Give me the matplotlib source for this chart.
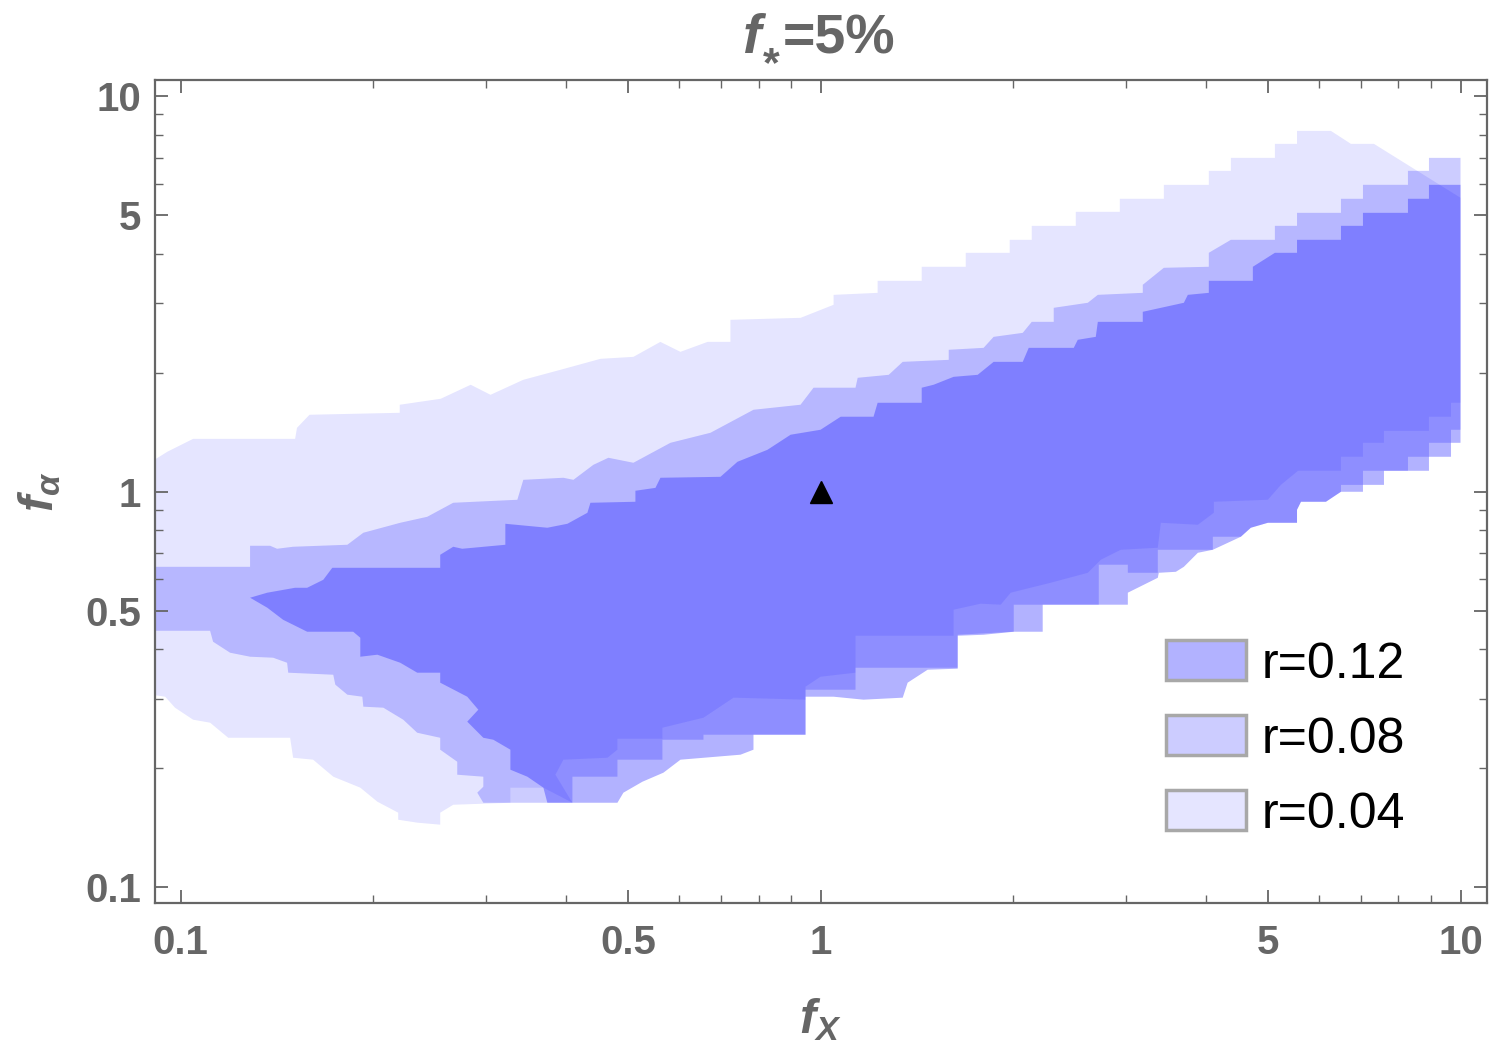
import numpy as np
import matplotlib
matplotlib.use('Agg')
import matplotlib.pyplot as plt
from matplotlib.patches import Rectangle
from matplotlib.ticker import FixedLocator, NullFormatter

plt.rcParams['font.family'] = ['Liberation Sans', 'DejaVu Sans']
plt.rcParams['mathtext.fontset'] = 'custom'
plt.rcParams['mathtext.it'] = 'Liberation Sans:italic:bold'
plt.rcParams['mathtext.rm'] = 'Liberation Sans:bold'
plt.rcParams['mathtext.bf'] = 'Liberation Sans:bold'

gray = '#666666'

# region r=0.04 : upper and lower edge (fX, f_alpha)
r04_top_fx = [0.09, 0.0953, 0.1046, 0.151, 0.152, 0.159, 0.220, 0.220, 0.255, 0.284, 0.305, 0.343,
              0.392, 0.453, 0.510, 0.562, 0.604, 0.666, 0.723, 0.723, 0.931, 1.048, 1.048, 1.228,
              1.228, 1.439, 1.439, 1.686, 1.686, 1.975, 1.975, 2.138, 2.138, 2.505, 2.505, 2.935,
              2.935, 3.439, 3.439, 4.043, 4.043, 4.377, 4.377, 5.128, 5.128, 5.553, 5.553, 6.274,
              6.742, 7.324, 10.0]
r04_top_fa = [1.191, 1.262, 1.361, 1.361, 1.451, 1.566, 1.584, 1.660, 1.719, 1.865, 1.759, 1.919,
              2.034, 2.169, 2.194, 2.394, 2.259, 2.394, 2.394, 2.722, 2.754, 2.971, 3.148, 3.185,
              3.416, 3.416, 3.707, 3.707, 4.021, 4.021, 4.337, 4.337, 4.705, 4.705, 5.105, 5.105,
              5.508, 5.508, 5.974, 5.974, 6.481, 6.481, 6.990, 6.990, 7.584, 7.584, 8.178, 8.178,
              7.584, 7.584, 5.540]
r04_bot_fx = [0.09, 0.0946, 0.098, 0.1046, 0.1112, 0.1187, 0.1483, 0.1499, 0.1611, 0.1732, 0.1909,
              0.2030, 0.2188, 0.2188, 0.2343, 0.2545, 0.2545, 0.2667, 0.3276, 0.3276, 0.3689,
              0.4095, 0.3852, 0.3964, 0.4645, 0.4815, 0.4815, 0.5661, 0.5661, 0.6562, 0.7311,
              0.9474, 0.9474, 1.0, 1.134, 1.134, 1.614, 1.614, 1.779, 1.912, 1.982, 2.289, 2.616,
              2.741, 2.946, 3.365, 3.402, 3.887, 4.117, 4.117, 5.000, 5.240, 5.573, 6.504, 6.504,
              7.040, 7.040, 7.593, 7.593, 8.927, 8.927, 9.664, 9.664, 10.0]
r04_bot_fa = [0.3068, 0.3032, 0.2844, 0.2652, 0.2606, 0.2387, 0.2387, 0.2125, 0.2101, 0.1903, 0.1785,
              0.1645, 0.1543, 0.1481, 0.1456, 0.1439, 0.1543, 0.1616, 0.1635, 0.1785, 0.1785,
              0.1635, 0.1925, 0.2101, 0.2125, 0.2227, 0.2373, 0.2373, 0.2531, 0.2683, 0.3015,
              0.2980, 0.3214, 0.3406, 0.3487, 0.4324, 0.4324, 0.5032, 0.5211, 0.5181, 0.5556,
              0.5887, 0.6239, 0.6730, 0.7134, 0.7218, 0.8348, 0.8252, 0.8849, 0.9435, 0.9545,
              1.041, 1.130, 1.130, 1.226, 1.226, 1.330, 1.330, 1.426, 1.426, 1.548, 1.548, 1.679,
              1.679]

# region r=0.08
r08_top_fx = [0.09, 0.1284, 0.1284, 0.138, 0.1415, 0.1499, 0.1822, 0.193, 0.2204, 0.2429, 0.2667,
              0.3359, 0.3432, 0.3964, 0.411, 0.4416, 0.4661, 0.510, 0.5827, 0.673, 0.7856, 0.9305,
              0.9751, 1.134, 1.143, 1.278, 1.344, 1.586, 1.586, 1.798, 1.864, 2.070, 2.138, 2.314,
              2.314, 2.616, 2.712, 3.188, 3.188, 3.439, 4.043, 4.043, 4.377, 5.128, 5.128, 5.553,
              5.553, 6.504, 6.504, 7.040, 7.040, 8.277, 8.277, 8.927, 8.927, 10.0]
r08_top_fa = [0.646, 0.646, 0.7302, 0.7302, 0.7176, 0.726, 0.7345, 0.7877, 0.8348, 0.8645, 0.938,
              0.9545, 1.072, 1.085, 1.072, 1.170, 1.219, 1.184, 1.330, 1.410, 1.612, 1.660,
              1.833, 1.833, 1.942, 1.976, 2.131, 2.156, 2.286, 2.312, 2.465, 2.523, 2.690, 2.690,
              2.919, 3.006, 3.148, 3.185, 3.338, 3.685, 3.707, 4.021, 4.337, 4.337, 4.705, 4.705,
              5.075, 5.075, 5.508, 5.508, 5.974, 5.974, 6.481, 6.481, 6.990, 6.990]
r08_bot_fx = [0.09, 0.1112, 0.1124, 0.1195, 0.1284, 0.1395, 0.1467, 0.1473, 0.1732, 0.1745, 0.1822,
              0.1923, 0.193, 0.2074, 0.2228, 0.2343, 0.2545, 0.2545, 0.2706, 0.2706, 0.2972,
              0.2972, 0.2908, 0.2972, 0.4095, 0.4095, 0.4815, 0.4815, 0.5661, 0.5661, 0.6562,
              0.6562, 0.9474, 0.9474, 1.134, 1.134, 1.638, 1.638, 2.004, 2.004, 2.721, 2.721,
              3.021, 3.021, 3.365, 3.365, 4.102, 4.102, 4.537, 4.703, 5.000, 5.553, 5.553, 5.633,
              6.162, 6.504, 6.504, 7.040, 7.040, 8.277, 8.277, 8.927, 8.927, 9.664, 9.664, 10.0]
r08_bot_fa = [0.4451, 0.4451, 0.4176, 0.3917, 0.3827, 0.3805, 0.3695, 0.3487, 0.3446, 0.3252, 0.3068,
              0.3032, 0.2861, 0.2844, 0.2652, 0.2458, 0.2387, 0.2227, 0.2076, 0.1925, 0.1903,
              0.1795, 0.1734, 0.1635, 0.1635, 0.1903, 0.1903, 0.2101, 0.2101, 0.2360, 0.2360,
              0.2430, 0.2430, 0.3158, 0.3158, 0.3589, 0.3589, 0.4349, 0.4426, 0.5181, 0.5181,
              0.654, 0.654, 0.6239, 0.6239, 0.7134, 0.7134, 0.7696, 0.7696, 0.811, 0.8348, 0.8348,
              0.9005, 0.9435, 0.9435, 1.0, 1.041, 1.041, 1.130, 1.130, 1.226, 1.226, 1.330, 1.330,
              1.435, 1.435]

# region r=0.12
r12_top_fx = [0.1284, 0.1366, 0.151, 0.1577, 0.1671, 0.1726, 0.2545, 0.2545, 0.2667, 0.2755, 0.3217,
              0.3217, 0.3742, 0.4022, 0.4322, 0.4369, 0.5137, 0.5137, 0.5521, 0.5621, 0.6976,
              0.7417, 0.8262, 0.8978, 1.0, 1.075, 1.210, 1.228, 1.439, 1.439, 1.502, 1.614, 1.760,
              1.864, 2.070, 2.115, 2.487, 2.523, 2.692, 2.712, 3.188, 3.188, 3.696, 3.749, 4.043,
              4.043, 4.737, 4.737, 5.128, 5.553, 5.553, 6.504, 6.504, 7.040, 7.040, 8.277, 8.277,
              8.927, 8.927, 10.0]
r12_top_fa = [0.5396, 0.5556, 0.5718, 0.5718, 0.599, 0.6423, 0.6423, 0.6929, 0.726, 0.7176, 0.7345,
              0.830, 0.811, 0.830, 0.8849, 0.938, 0.9435, 1.006, 1.023, 1.085, 1.091, 1.191,
              1.277, 1.394, 1.435, 1.548, 1.548, 1.679, 1.679, 1.833, 1.865, 1.953, 1.976, 2.131,
              2.131, 2.312, 2.312, 2.423, 2.465, 2.690, 2.690, 2.852, 3.006, 3.148, 3.185, 3.416,
              3.416, 3.707, 4.021, 4.021, 4.337, 4.337, 4.705, 4.705, 5.075, 5.075, 5.508, 5.508,
              5.974, 5.974]
r12_bot_fx = [0.1284, 0.1366, 0.1446, 0.1577, 0.1861, 0.1909, 0.1909, 0.203, 0.2204, 0.2343, 0.2545,
              0.2545, 0.2805, 0.2919, 0.2805, 0.2972, 0.3081, 0.3276, 0.3276, 0.3482, 0.3689,
              0.3742, 0.4815, 0.492, 0.5268, 0.5682, 0.6041, 0.7497, 0.7856, 0.7856, 0.9474,
              0.9474, 1.048, 1.167, 1.344, 1.368, 1.470, 1.638, 1.638, 1.798, 2.004, 2.224, 2.224,
              3.021, 3.021, 3.365, 3.377, 3.591, 3.696, 3.887, 4.102, 4.537, 4.703, 5.0, 5.553,
              5.553, 5.633, 6.162, 6.504, 7.040, 7.040, 7.593, 7.593, 8.927, 8.927, 9.664, 9.664,
              10.0]
r12_bot_fa = [0.5396, 0.5091, 0.4746, 0.4426, 0.4426, 0.4274, 0.3827, 0.3872, 0.3695, 0.3487, 0.3487,
              0.329, 0.3032, 0.2811, 0.2622, 0.2387, 0.236, 0.2227, 0.1982, 0.1903, 0.1785,
              0.1635, 0.1635, 0.1734, 0.1848, 0.1948, 0.2101, 0.2163, 0.2227, 0.243, 0.243,
              0.3032, 0.3032, 0.298, 0.3015, 0.329, 0.3548, 0.3569, 0.4324, 0.4349, 0.4426,
              0.4426, 0.5181, 0.5181, 0.5556, 0.606, 0.6239, 0.6275, 0.646, 0.701, 0.7134, 0.7696,
              0.811, 0.8348, 0.8348, 0.9005, 0.9435, 0.9435, 1.0, 1.0, 1.041, 1.041, 1.130, 1.130,
              1.226, 1.226, 1.330, 1.330]

region_labels = ['r=0.12', 'r=0.08', 'r=0.04']
region_alpha = [0.3, 0.2, 0.1]

point_fx = [1.0]
point_fa = [1.0]

major_ticks = [0.1, 0.5, 1, 5, 10]
major_labels = ['0.1', '0.5', '1', '5', '10']
minor_ticks = [0.09, 0.2, 0.3, 0.4, 0.6, 0.7, 0.8, 0.9, 2, 3, 4, 6, 7, 8, 9]


def region_polygon(top_x, top_y, bot_x, bot_y):
    xs = list(top_x) + list(bot_x)[::-1]
    ys = list(top_y) + list(bot_y)[::-1]
    return xs, ys


W, H = 1500, 1049
fig = plt.figure(figsize=(W / 100, H / 100), dpi=100)
ax = fig.add_axes([0.10333, 0.13918, 0.888, 0.78456])
ax.set_xscale('log')
ax.set_yscale('log')

regions = [(r04_top_fx, r04_top_fa, r04_bot_fx, r04_bot_fa, 0.1),
           (r08_top_fx, r08_top_fa, r08_bot_fx, r08_bot_fa, 0.2),
           (r12_top_fx, r12_top_fa, r12_bot_fx, r12_bot_fa, 0.3)]
for tx, ty, bx, by, a in regions:
    xs, ys = region_polygon(tx, ty, bx, by)
    ax.fill(xs, ys, facecolor=(0, 0, 1, a), edgecolor='none', lw=0, zorder=1)

ax.plot(point_fx, point_fa, marker='^', color='black', markersize=16, ls='none', zorder=5)

ax.set_xlim(0.0912, 11.0)
ax.set_ylim(0.0912, 11.0)

for axis in (ax.xaxis, ax.yaxis):
    axis.set_major_locator(FixedLocator(major_ticks))
    axis.set_minor_locator(FixedLocator(minor_ticks))
    axis.set_minor_formatter(NullFormatter())
ax.set_xticklabels(major_labels)
ax.set_yticklabels(major_labels)

ax.tick_params(which='both', direction='in', top=True, right=True, color=gray,
               labelcolor=gray, labelsize=29)
ax.tick_params(which='major', length=9.5, width=1.3)
ax.tick_params(which='minor', length=6, width=1.0)
ax.tick_params(axis='x', pad=15)
ax.tick_params(axis='y', pad=10)
for lab in ax.get_xticklabels() + ax.get_yticklabels():
    lab.set_fontweight('bold')
for sp in ax.spines.values():
    sp.set_color(gray)
    sp.set_linewidth(1.6)

# title f_* = 5%, built from plain text pieces
fig.text(743 / W, 1 - 53 / H, 'f', fontsize=40, fontweight='bold', style='italic',
         color=gray, ha='left', va='baseline')
fig.text(763 / W, 1 - 76 / H, '*', fontsize=31, fontweight='bold',
         color=gray, ha='left', va='baseline')
fig.text(783 / W, 1 - 53 / H, '=5%', fontsize=40, fontweight='bold',
         color=gray, ha='left', va='baseline')

fig.text(820 / W, 1 - 1020 / H, r'$f_X$', fontsize=35, color=gray,
         ha='center', va='center')
fig.text(40 / W, 1 - 492 / H, r'$f_\alpha$', fontsize=35, color=gray,
         ha='center', va='center', rotation=90)

# legend drawn by hand, bottom right
row_y = [0.2953, 0.2041, 0.1130]
for lab, a, yc in zip(region_labels, region_alpha, row_y):
    ax.add_patch(Rectangle((0.759, yc - 0.0243), 0.060, 0.0486, transform=ax.transAxes,
                           facecolor=(0, 0, 1, a), edgecolor='#a8a8a8', lw=2.5, zorder=6))
    ax.text(0.831, yc, lab, transform=ax.transAxes, fontsize=36, color='black',
            va='center_baseline', ha='left', zorder=6)

fig.savefig('out.png', dpi=100)
